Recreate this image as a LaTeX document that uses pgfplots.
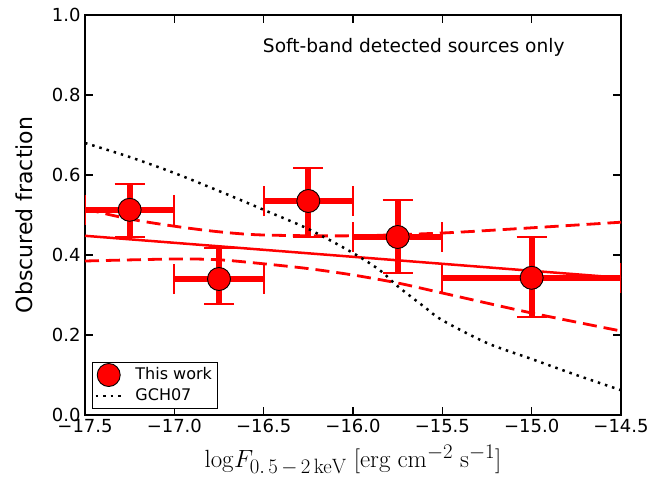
\documentclass[border=0pt]{standalone}
\usepackage[no-math]{fontspec}
\setmainfont{DejaVu Sans}
\usepackage{pgfplots}
\pgfplotsset{compat=1.18}
\definecolor{mplred}{RGB}{255,0,0}
\begin{document}
\begin{tikzpicture}[x=1pt,y=1pt]
\useasboundingbox (-85,-68) rectangle (565,415);
\begin{axis}[
  at={(0,0)}, anchor=south west,
  scale only axis, width=536pt, height=400pt,
  xmin=-17.5, xmax=-14.5, ymin=0, ymax=1,
  xtick={-17.5,-17.0,-16.5,-16.0,-15.5,-15.0,-14.5},
  xticklabels={−17.5,−17.0,−16.5,−16.0,−15.5,−15.0,−14.5},
  ytick={0,0.2,0.4,0.6,0.8,1.0},
  yticklabels={0.0,0.2,0.4,0.6,0.8,1.0},
  tick label style={font=\fontsize{18}{21}\selectfont},
  xticklabel style={yshift=-1pt},
  yticklabel style={xshift=-1pt},
  major tick length=8pt,
  tick style={black, line width=1.1pt},
  axis line style={line width=1.3pt},
  xlabel={$\log\!F_{0.\,5\,-\,2\,\mathrm{keV}}\;[\mathrm{erg\;cm^{-2}\;s^{-1}}]$},
  ylabel={Obscured fraction},
  xlabel style={font=\fontsize{30.5}{34}\selectfont, yshift=-5pt},
  ylabel style={font=\fontsize{22}{26}\selectfont, at={(axis description cs:-0.114,0.5)}, anchor=center},
  legend cell align=left,
  legend style={at={(0.013,0.015)}, anchor=south west, draw=black, line width=1pt,
    font=\fontsize{16}{19}\selectfont, row sep=0pt, column sep=10pt, inner sep=2pt,
    nodes={text height=11pt, text depth=3pt, inner sep=3.5pt}},
  clip=true,
]
% fitted line and confidence band
\addplot[mplred, line width=2.5pt, forget plot] coordinates {(-17.5,0.448) (-14.5,0.343)};
\addplot[mplred, line width=2.8pt, dash pattern=on 14pt off 7pt, smooth, forget plot] coordinates {
 (-17.5,0.515) (-17.25,0.49) (-17.0,0.472) (-16.75,0.458) (-16.5,0.45) (-16.0,0.448) (-15.5,0.455) (-15.0,0.468) (-14.5,0.482)};
\addplot[mplred, line width=2.8pt, dash pattern=on 14pt off 7pt, smooth, forget plot] coordinates {
 (-17.5,0.385) (-17.0,0.39) (-16.75,0.388) (-16.5,0.378) (-16.25,0.366) (-16.0,0.35) (-15.75,0.33) (-15.5,0.305) (-15.0,0.255) (-14.5,0.21)};
% x error bars
\addplot[only marks, mark=none, forget plot,
  error bars/.cd, x dir=both, x explicit,
  error bar style={draw=mplred, line width=6pt},
  error mark=|, error mark options={draw=mplred, line width=2pt, mark size=15pt}]
 coordinates {
 (-17.25,0.513) +- (0.25,0)
 (-16.75,0.340) +- (0.25,0)
 (-16.25,0.535) +- (0.25,0)
 (-15.75,0.445) +- (0.25,0)
 (-15.0,0.343) +- (0.5,0)
 };
% y error bars
\addplot[only marks, mark=none, forget plot,
  error bars/.cd, y dir=both, y explicit,
  error bar style={draw=mplred, line width=6pt},
  error mark=|, error mark options={draw=mplred, line width=2pt, mark size=15pt}]
 coordinates {
 (-17.25,0.513) += (0,0.065) -= (0,0.068)
 (-16.75,0.340) += (0,0.078) -= (0,0.062)
 (-16.25,0.535) += (0,0.083) -= (0,0.090)
 (-15.75,0.445) += (0,0.093) -= (0,0.090)
 (-15.0,0.343) += (0,0.102) -= (0,0.098)
 };
% GCH07
\addplot[black, line width=2.5pt, dash pattern=on 2.5pt off 5pt, smooth, forget plot] coordinates {
 (-17.5,0.68) (-17.25,0.645) (-17.0,0.605) (-16.75,0.56) (-16.5,0.513) (-16.25,0.465) (-16.0,0.405) (-15.85,0.362) (-15.75,0.322) (-15.6,0.27) (-15.5,0.237) (-15.25,0.18) (-15.0,0.14) (-14.75,0.1) (-14.5,0.062)};
% points
\addplot[only marks, mark=*, mark size=11.5pt, mark options={fill=mplred, draw=black, line width=0.9pt}, forget plot]
 coordinates {(-17.25,0.513) (-16.75,0.340) (-16.25,0.535) (-15.75,0.445) (-15.0,0.343)};
\addlegendimage{legend image code/.code={\path[draw=none,fill=none] (0pt,-1pt) rectangle (25pt,1pt);\filldraw[overlay, fill=mplred, draw=black, line width=0.9pt] (13pt,0pt) circle[radius=11.5pt];}}
\addlegendentry{This work}
\addlegendimage{legend image code/.code={\draw[black, line width=2.5pt, dash pattern=on 2.5pt off 5pt] (0pt,0pt) -- (25pt,0pt);}}
\addlegendentry{GCH07}
\node[font=\fontsize{18.6}{22}\selectfont] at (axis cs:-15.66,0.918) {Soft-band detected sources only};
\end{axis}
\end{tikzpicture}
\end{document}
